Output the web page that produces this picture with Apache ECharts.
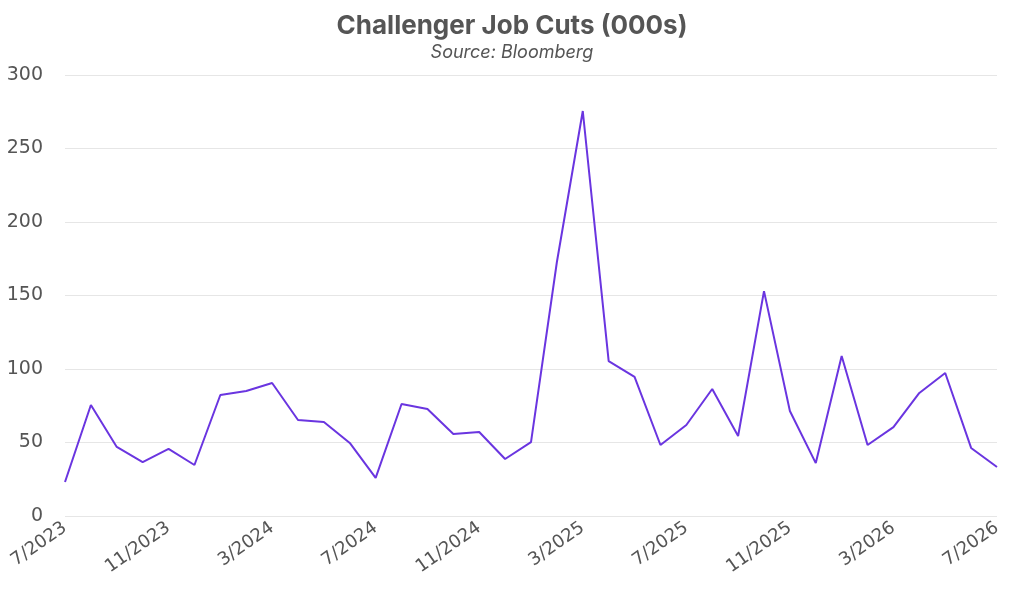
<!DOCTYPE html>
<html><head><meta charset="utf-8">
<script src="https://cdn.jsdelivr.net/npm/echarts@6/dist/echarts.min.js"></script>
<style>html,body{margin:0;padding:0;background:#fff}#c{width:1024px;height:608px}</style>
</head><body><div id="c"></div>
<script>
const categories = ["7/2023","8/2023","9/2023","10/2023","11/2023","12/2023","1/2024","2/2024","3/2024","4/2024","5/2024","6/2024","7/2024","8/2024","9/2024","10/2024","11/2024","12/2024","1/2025","2/2025","3/2025","4/2025","5/2025","6/2025","7/2025","8/2025","9/2025","10/2025","11/2025","12/2025","1/2026","2/2026","3/2026","4/2026","5/2026","6/2026","7/2026"];
const jobCuts = [23.1,75.5,47,36.7,45.6,34.7,82.3,85,90.5,65.3,64,49.7,25.9,76.2,72.8,55.8,57.1,38.8,50.3,172.8,275.5,105.4,94.6,48.3,61.9,86.4,54.4,153,71.4,36,108.8,48.3,60.5,83.7,97.3,46.3,33.3];
const yTicks = [0,50,100,150,200,250,300];
const chart = echarts.init(document.getElementById('c'));
chart.setOption({
  backgroundColor:'#fff',
  title:{text:'Challenger Job Cuts (000s)',subtext:'Source: Bloomberg',left:'center',top:8,itemGap:5,
    textStyle:{fontFamily:'Inter',fontSize:26,fontWeight:'bold',color:'#555'},
    subtextStyle:{fontFamily:'Inter',fontSize:18,fontStyle:'italic',color:'#555'}},
  grid:{left:65,right:27,top:75,bottom:92,containLabel:false},
  xAxis:{type:'category',data:categories,boundaryGap:false,
    axisLine:{show:false},axisTick:{show:false},
    axisLabel:{interval:3,rotate:35,fontFamily:'DejaVu Sans',fontSize:18,color:'#555',margin:10}},
  yAxis:{type:'value',min:yTicks[0],max:yTicks[yTicks.length-1],interval:50,
    axisLine:{show:false},axisTick:{show:false},
    axisLabel:{fontFamily:'DejaVu Sans',fontSize:19,color:'#555',margin:22},
    splitLine:{lineStyle:{color:'#e6e6e6',width:1}}},
  series:[{type:'line',data:jobCuts,symbol:'none',lineStyle:{color:'#6a35e0',width:2},itemStyle:{color:'#6a35e0'}}]
});
</script></body></html>
